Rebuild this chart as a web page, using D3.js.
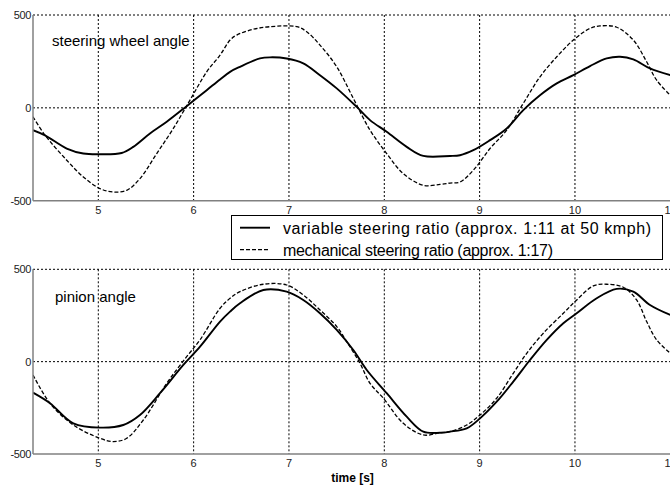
<!DOCTYPE html>
<html>
<head>
<meta charset="utf-8">
<script src="https://cdn.jsdelivr.net/npm/d3@7"></script>
<style>
  html, body { margin: 0; padding: 0; background: #fff; }
  svg { display: block; }
</style>
</head>
<body>
<script>
// ---------- data ----------
const xTicks = [5, 6, 7, 8, 9, 10, 11];
const yTicks = [-500, 0, 500];
const legendLabels = ["variable steering ratio (approx. 1:11 at 50 kmph)", "mechanical steering ratio (approx. 1:17)"];
const panelTitles = ["steering wheel angle", "pinion angle"];
const xLabel = "time [s]";

// steering wheel angle – variable ratio (solid)
const wheelVarT = [4.315, 4.441, 4.669, 4.843, 5.018, 5.245, 5.367, 5.542, 5.718, 5.927, 6.137, 6.277, 6.382, 6.486, 6.696, 6.801, 6.976, 7.150, 7.325, 7.501, 7.711, 7.850, 8.025, 8.235, 8.409, 8.689, 8.794, 8.934, 9.109, 9.284, 9.458, 9.633, 9.809, 9.983, 10.158, 10.333, 10.473, 10.612, 10.787, 11.0];
const wheelVarV = [-120, -148, -219, -246, -250, -243, -210, -138, -75, 9, 95, 153, 194, 221, 266, 272, 266, 240, 176, 105, 5, -66, -129, -210, -259, -259, -255, -228, -174, -111, -12, 68, 132, 176, 225, 266, 275, 261, 212, 176];

// steering wheel angle – mechanical ratio (dashed)
const wheelMechT = [4.315, 4.441, 4.669, 4.843, 5.018, 5.157, 5.298, 5.437, 5.613, 5.787, 5.962, 6.137, 6.277, 6.382, 6.452, 6.626, 6.801, 7.081, 7.186, 7.325, 7.501, 7.675, 7.850, 8.025, 8.199, 8.409, 8.584, 8.689, 8.794, 8.934, 9.109, 9.284, 9.458, 9.633, 9.809, 9.983, 10.158, 10.263, 10.438, 10.612, 10.752, 10.857, 11.0];
const wheelMechV = [-48, -147, -282, -372, -435, -453, -444, -381, -246, -111, 42, 194, 284, 365, 392, 423, 437, 437, 410, 338, 221, 51, -120, -246, -354, -417, -412, -405, -399, -336, -219, -120, 24, 167, 275, 365, 428, 441, 434, 365, 248, 149, 68];

// pinion angle – variable ratio (solid)
const pinionVarT = [4.315, 4.493, 4.738, 5.018, 5.262, 5.437, 5.647, 5.892, 6.067, 6.277, 6.382, 6.486, 6.731, 6.976, 7.150, 7.325, 7.501, 7.675, 7.816, 8.025, 8.235, 8.409, 8.584, 8.689, 8.864, 9.004, 9.179, 9.353, 9.528, 9.704, 9.878, 10.018, 10.228, 10.438, 10.612, 10.787, 11.0];
const pinionVarV = [-168, -225, -334, -357, -343, -289, -171, -18, 81, 217, 271, 316, 388, 379, 334, 262, 172, 63, -45, -171, -298, -379, -385, -379, -361, -307, -217, -108, 9, 118, 208, 262, 343, 394, 379, 307, 253];

// pinion angle – mechanical ratio (dashed)
const pinionMechT = [4.315, 4.493, 4.738, 5.018, 5.157, 5.298, 5.472, 5.718, 5.927, 6.067, 6.277, 6.382, 6.486, 6.731, 6.976, 7.150, 7.325, 7.501, 7.606, 7.745, 7.850, 7.990, 8.199, 8.409, 8.584, 8.689, 8.864, 9.004, 9.179, 9.353, 9.494, 9.668, 9.878, 10.018, 10.192, 10.333, 10.507, 10.647, 10.752, 10.857, 11.0];
const pinionMechV = [-72, -225, -343, -415, -433, -415, -316, -117, 27, 118, 289, 343, 379, 419, 415, 361, 280, 190, 108, -9, -117, -198, -334, -397, -385, -379, -343, -289, -198, -63, 45, 154, 262, 334, 410, 419, 403, 334, 217, 118, 45];

// ---------- drawing ----------
const W = 670, H = 486;
const svg = d3.select("body").append("svg").attr("width", W).attr("height", H)
  .style("font-family", "'Liberation Sans', Arial, sans-serif");

const x = d3.scaleLinear().domain([4.315, 11]).range([33, 670.3]);

function zip(t, v) { return t.map((d, i) => [d, v[i]]); }

const panels = [
  { top: 15, bottom: 200.7, title: panelTitles[0], tx: 52, ty: 45.5, varS: zip(wheelVarT, wheelVarV), mechS: zip(wheelMechT, wheelMechV), tickY: 214 },
  { top: 269.3, bottom: 454, title: panelTitles[1], tx: 55, ty: 302, varS: zip(pinionVarT, pinionVarV), mechS: zip(pinionMechT, pinionMechV), tickY: 467 }
];

panels.forEach((p, idx) => {
  const y = d3.scaleLinear().domain([-500, 500]).range([p.bottom, p.top]);
  const g = svg.append("g");

  // grid
  g.selectAll(".vg").data(xTicks.filter(d => d < 11)).enter().append("line")
    .attr("x1", d => x(d)).attr("x2", d => x(d))
    .attr("y1", p.top).attr("y2", p.bottom)
    .attr("stroke", "#000").attr("stroke-width", 1).attr("stroke-dasharray", "2,2");
  g.selectAll(".hg").data(yTicks.filter(d => d > -500)).enter().append("line")
    .attr("x1", x.range()[0]).attr("x2", W)
    .attr("y1", d => y(d)).attr("y2", d => y(d))
    .attr("stroke", "#000").attr("stroke-width", 1).attr("stroke-dasharray", "2,2");

  // lines
  const clipId = "clip" + idx;
  svg.append("clipPath").attr("id", clipId).append("rect")
    .attr("x", x.range()[0]).attr("y", p.top - 2).attr("width", W - x.range()[0]).attr("height", p.bottom - p.top + 4);
  const line = d3.line().x(d => x(d[0])).y(d => y(d[1])).curve(d3.curveCatmullRom.alpha(0.5));
  g.append("path").datum(p.mechS).attr("d", line).attr("fill", "none")
    .attr("stroke", "#000").attr("stroke-width", 1.3).attr("stroke-dasharray", "4,2")
    .attr("clip-path", `url(#${clipId})`);
  g.append("path").datum(p.varS).attr("d", line).attr("fill", "none")
    .attr("stroke", "#000").attr("stroke-width", 1.9)
    .attr("clip-path", `url(#${clipId})`);

  // axes lines
  g.append("line").attr("x1", x.range()[0]).attr("x2", x.range()[0]).attr("y1", p.top).attr("y2", p.bottom)
    .attr("stroke", "#808080").attr("stroke-width", 1.5);
  g.append("line").attr("x1", x.range()[0]).attr("x2", W).attr("y1", p.bottom).attr("y2", p.bottom)
    .attr("stroke", "#808080").attr("stroke-width", 1.5);

  // tick labels
  g.selectAll(".xt").data(xTicks).enter().append("text")
    .attr("x", d => x(d)).attr("y", p.tickY)
    .attr("text-anchor", "middle").attr("font-size", 11).attr("fill", "#222")
    .text(d => d);
  g.selectAll(".yt").data(yTicks).enter().append("text")
    .attr("x", 31).attr("y", d => y(d) + 4)
    .attr("text-anchor", "end").attr("font-size", 11).attr("fill", "#222").attr("letter-spacing", -0.4)
    .text(d => d);

  // panel title
  g.append("text").attr("x", p.tx).attr("y", p.ty).attr("font-size", 15).attr("fill", "#000").text(p.title);
});

// x label
svg.append("text").attr("x", 352.5).attr("y", 482).attr("text-anchor", "middle")
  .attr("font-size", 12).attr("font-weight", "bold").text(xLabel);

// legend
const lg = svg.append("g");
lg.append("rect").attr("x", 231.5).attr("y", 215.5).attr("width", 431).attr("height", 44)
  .attr("fill", "#fff").attr("stroke", "#000").attr("stroke-width", 1);
const legendStyles = [{ w: 1.9, dash: null, len: 368 }, { w: 1.3, dash: "4,2", len: 270 }];
legendLabels.forEach((lab, i) => {
  const cy = 227.7 + i * 22;
  lg.append("line").attr("x1", 240).attr("x2", 270).attr("y1", cy).attr("y2", cy)
    .attr("stroke", "#000").attr("stroke-width", legendStyles[i].w)
    .attr("stroke-dasharray", legendStyles[i].dash);
  lg.append("text").attr("x", 283).attr("y", cy + 6).attr("font-size", 16).attr("fill", "#000")
    .attr("textLength", legendStyles[i].len).attr("lengthAdjust", "spacing")
    .text(lab);
});
</script>
</body>
</html>
